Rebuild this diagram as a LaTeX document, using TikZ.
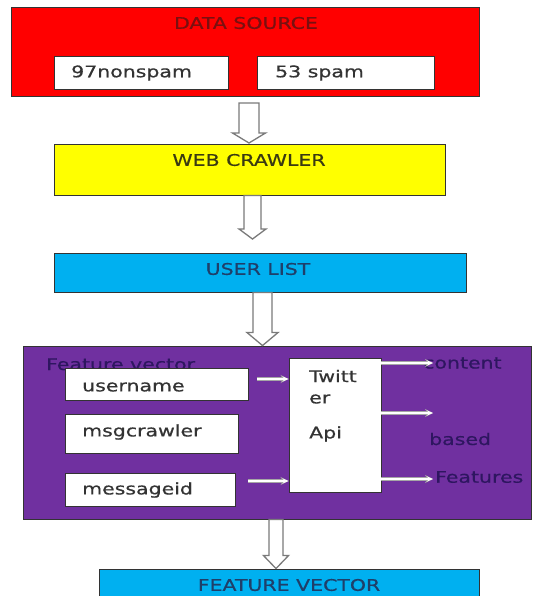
\documentclass[tikz,border=0pt]{standalone}
\usepackage{fontspec}
\setmainfont{DejaVu Sans}[FakeStretch=1.28,FakeBold=0.6]
\usetikzlibrary{calc,arrows.meta}
\definecolor{redbox}{HTML}{FF0000}
\definecolor{yelbox}{HTML}{FFFF00}
\definecolor{bluebox}{HTML}{00B0F0}
\definecolor{purpbox}{HTML}{7030A0}
\definecolor{redtxt}{HTML}{7A1010}
\definecolor{yeltxt}{HTML}{3A3A12}
\definecolor{bluetxt}{HTML}{1F3F6A}
\definecolor{purptxt}{HTML}{2E1660}
\definecolor{boxtxt}{HTML}{333333}
\definecolor{arrgray}{HTML}{7A7A7A}
\tikzset{
  panel/.style={draw=black!80, line width=0.9pt, rectangle, inner sep=0pt},
  wbox/.style={panel, fill=white},
  txt/.style={inner sep=0pt, font=\fontsize{16}{18}\selectfont},
  harrow/.style={draw=arrgray, fill=white, line width=1.3pt, line join=miter},
  warrow/.style={preaction={draw=gray!70, line width=3.4pt, -{Stealth[length=8pt,width=8pt]}},
                 draw=white, line width=1.8pt, -{Stealth[length=6pt,width=5pt]}}
}
\newcommand\hollowarr[5]{%
  \draw[harrow] let \p1=(#1), \p2=(#2) in
    (\x1-#3,\y1) -- (\x1-#3,\y2+#5) -- (\x1-#4,\y2+#5) -- (\x2,\y2)
    -- (\x1+#4,\y2+#5) -- (\x1+#3,\y2+#5) -- (\x1+#3,\y1) -- cycle;}
\begin{document}
\begin{tikzpicture}[x=1pt,y=-1pt]
\useasboundingbox (0,0) rectangle (533,596);
\clip (0,0) rectangle (533,596);
\fill[white] (0,0) rectangle (533,596);

% data source
\node[panel, fill=redbox, minimum width=468pt, minimum height=89pt] (src) at (245,51.5) {};
\node[txt, text=redtxt] (srct) at (246,23) {DATA SOURCE};
\node[wbox, minimum width=174pt, minimum height=33pt] (ns) at (141,72.5) {};
\node[txt, text=boxtxt, anchor=west] (nst) at (71,73) {97nonspam};
\node[wbox, minimum width=177pt, minimum height=33pt] (sp) at (345.5,72.5) {};
\node[txt, text=boxtxt, anchor=west] (spt) at (275,73) {53 spam};

% web crawler
\node[panel, fill=yelbox, minimum width=391pt, minimum height=51pt] (web) at (249.5,169.5) {};
\node[txt, text=yeltxt] (webt) at (249,160) {WEB CRAWLER};

% user list
\node[panel, fill=bluebox, minimum width=412pt, minimum height=39pt] (usr) at (260,272.5) {};
\node[txt, text=bluetxt] (usrt) at (258,269) {USER LIST};

% feature vector panel
\node[panel, fill=purpbox, minimum width=508pt, minimum height=173pt] (fv) at (277,432.5) {};
\node[txt, text=purptxt, anchor=base west] (fvt) at (46,370) {Feature vector};
\node[wbox, minimum width=183pt, minimum height=32pt] (un) at (156.5,384) {};
\node[txt, text=boxtxt, anchor=west] (unt) at (82,387) {username};
\node[wbox, minimum width=173pt, minimum height=39pt] (mc) at (151.5,433.5) {};
\node[txt, text=boxtxt, anchor=west] (mct) at (82,432) {msgcrawler};
\node[wbox, minimum width=170pt, minimum height=33pt] (mi) at (150,489.5) {};
\node[txt, text=boxtxt, anchor=west] (mit) at (82,490) {messageid};
\node[wbox, minimum width=92pt, minimum height=134pt] (tw) at (335,425) {};
\node[txt, text=boxtxt, anchor=west] (tw1) at (309,376) {Twitt};
\node[txt, text=boxtxt, anchor=west] (tw2) at (309,399) {er};
\node[txt, text=boxtxt, anchor=west] (tw3) at (309,434) {Api};

\node[txt, text=purptxt, anchor=west] (ct) at (423,363) {content};
\node[txt, text=purptxt, anchor=west] (bt) at (429,439) {based};
\node[txt, text=purptxt, anchor=west] (ft) at (435,477) {Features};

\coordinate (u1) at (257,379);
\draw[warrow] (u1) -- (u1 -| tw.west);
\coordinate (m1) at (248,481);
\draw[warrow] (m1) -- (m1 -| tw.west);
\coordinate (r1) at (433,363);
\coordinate (r2) at (433,413);
\coordinate (r3) at (433,479);
\draw[warrow] (r1 -| tw.east) -- (r1);
\draw[warrow] (r2 -| tw.east) -- (r2);
\draw[warrow] (r3 -| tw.east) -- (r3);

% final box
\node[panel, fill=bluebox, minimum width=380pt, minimum height=40pt] (out) at (289,589) {};
\node[txt, text=bluetxt] (outt) at (289,585) {FEATURE VECTOR};

% hollow arrows
\coordinate (a1s) at (249,103);
\coordinate (a1e) at (249,143);
\hollowarr{a1s}{a1e}{10pt}{16.5pt}{10pt}
\coordinate (a2s) at (web.south -| 252.5,0);
\coordinate (a2e) at (252.5,239);
\hollowarr{a2s}{a2e}{8.5pt}{13.5pt}{10pt}
\coordinate (a3s) at (usr.south -| 262.5,0);
\coordinate (a3e) at (fv.north -| 262.5,0);
\hollowarr{a3s}{a3e}{9.5pt}{15.5pt}{13pt}
\coordinate (a4s) at (fv.south -| 276,0);
\coordinate (a4e) at (out.north -| 276,0);
\hollowarr{a4s}{a4e}{7pt}{12.5pt}{13pt}
\end{tikzpicture}
\end{document}
